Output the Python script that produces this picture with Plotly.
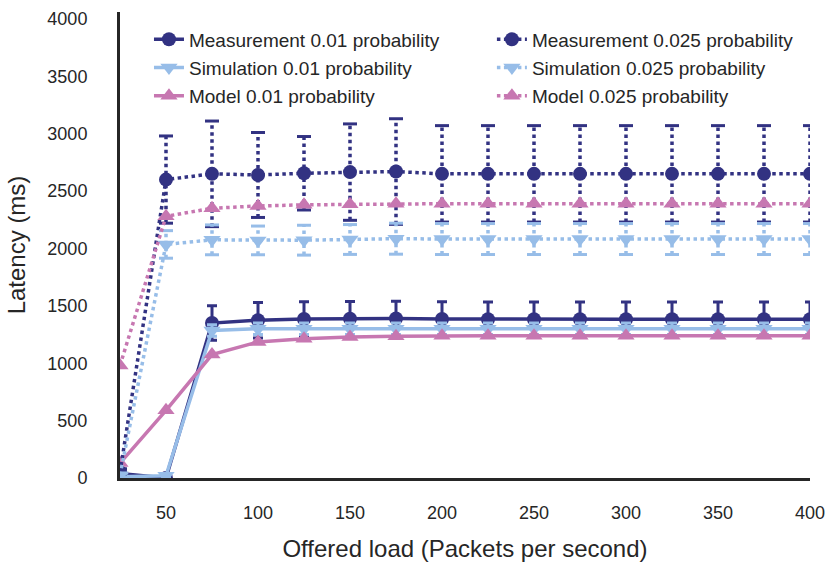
import plotly.graph_objects as go

x = [25, 50, 75, 100, 125, 150, 175, 200, 225, 250, 275, 300, 325, 350, 375, 400]

meas_001 = [40, 0, 1350, 1375, 1385, 1388, 1390, 1385, 1383, 1383, 1383, 1383, 1383, 1383, 1383, 1383]
meas_001_err = [20, 10, 150, 155, 150, 150, 150, 150, 150, 150, 150, 150, 150, 150, 150, 150]
sim_001 = [10, 20, 1285, 1300, 1300, 1300, 1300, 1300, 1300, 1300, 1300, 1300, 1300, 1300, 1300, 1300]
sim_001_err = [10, 10, 50, 50, 50, 50, 50, 50, 50, 50, 50, 50, 50, 50, 50, 50]
model_001 = [130, 590, 1075, 1185, 1213, 1228, 1235, 1240, 1240, 1240, 1240, 1240, 1240, 1240, 1240, 1240]

meas_0025 = [50, 2600, 2650, 2640, 2655, 2665, 2670, 2650, 2650, 2650, 2650, 2650, 2650, 2650, 2650, 2650]
meas_0025_err = [30, 380, 460, 370, 320, 420, 460, 420, 420, 420, 420, 420, 420, 420, 420, 420]
sim_0025 = [25, 2035, 2075, 2070, 2072, 2078, 2085, 2082, 2082, 2082, 2082, 2082, 2082, 2082, 2082, 2082]
sim_0025_err = [15, 120, 130, 125, 130, 130, 135, 135, 135, 135, 135, 135, 135, 135, 135, 135]
model_0025 = [980, 2280, 2350, 2370, 2380, 2385, 2390, 2390, 2390, 2390, 2390, 2390, 2390, 2390, 2390, 2390]

DARK = "#323282"
LIGHT = "#97bde8"
PINK = "#c777b1"
TXT = "#262626"
FONT = "Liberation Sans, Arial, sans-serif"

fig = go.Figure()


def dotted_errors(y, err, color):
    ex, ey = [], []
    for xi, yi, ei in zip(x, y, err):
        ex += [xi, xi, None]
        ey += [yi - ei, yi + ei, None]
    fig.add_trace(go.Scatter(x=ex, y=ey, mode="lines", showlegend=False, hoverinfo="skip",
                             line=dict(color=color, width=3.5, dash="dot")))
    cx, cy = [], []
    for xi, yi, ei in zip(x, y, err):
        cx += [xi, xi]
        cy += [yi - ei, yi + ei]
    fig.add_trace(go.Scatter(x=cx, y=cy, mode="markers", showlegend=False, hoverinfo="skip",
                             marker=dict(symbol="line-ew", size=10, line=dict(color=color, width=3))))


def add(name, y, err, color, symbol, dash, legend, group):
    kw = {}
    if err is not None:
        if dash == "solid":
            kw["error_y"] = dict(type="data", array=err, visible=True, thickness=3, width=5, color=color)
        else:
            dotted_errors(y, err, color)
    fig.add_trace(go.Scatter(
        x=x, y=y, name=name, mode="lines+markers",
        line=dict(color=color, width=3.5, dash=dash),
        marker=dict(color=color, size=14 if symbol == "circle" else 15, symbol=symbol),
        legend=legend, legendgroup=group, **kw))


add("Measurement 0.01 probability", meas_001, meas_001_err, DARK, "circle", "solid", "legend", "a")
add("Simulation 0.01 probability", sim_001, sim_001_err, LIGHT, "triangle-down", "solid", "legend", "b")
add("Model 0.01 probability", model_001, None, PINK, "triangle-up", "solid", "legend", "c")
add("Measurement 0.025 probability", meas_0025, meas_0025_err, DARK, "circle", "dot", "legend2", "d")
add("Simulation 0.025 probability", sim_0025, sim_0025_err, LIGHT, "triangle-down", "dot", "legend2", "e")
add("Model 0.025 probability", model_0025, None, PINK, "triangle-up", "dot", "legend2", "f")

leg = dict(font=dict(size=19, color=TXT, family=FONT), bgcolor="rgba(0,0,0,0)",
           xanchor="left", yanchor="top", tracegroupgap=0.5, itemwidth=30)

fig.update_layout(
    width=830, height=562,
    margin=dict(l=120, r=20, t=12, b=84),
    paper_bgcolor="white", plot_bgcolor="white",
    font=dict(family=FONT, color=TXT),
    legend=dict(x=0.042, y=0.982, **leg),
    legend2=dict(x=0.539, y=0.982, **leg),
    xaxis=dict(range=[25, 400], tickvals=[50, 100, 150, 200, 250, 300, 350, 400],
               showgrid=False, zeroline=False, showline=True, linewidth=3, linecolor=TXT,
               ticks="", tickfont=dict(size=18, color=TXT), ticklabelstandoff=16, automargin=False,
               title=dict(text="Offered load (Packets per second)", font=dict(size=24, color=TXT), standoff=21)),
    yaxis=dict(range=[0, 4060], tickvals=[0, 500, 1000, 1500, 2000, 2500, 3000, 3500, 4000],
               showgrid=False, zeroline=False, showline=True, linewidth=3, linecolor=TXT,
               ticks="", tickfont=dict(size=18, color=TXT), ticklabelstandoff=26, automargin=False,
               title=dict(text="Latency (ms)", font=dict(size=24, color=TXT), standoff=15)),
)

fig.write_html("out.html")
